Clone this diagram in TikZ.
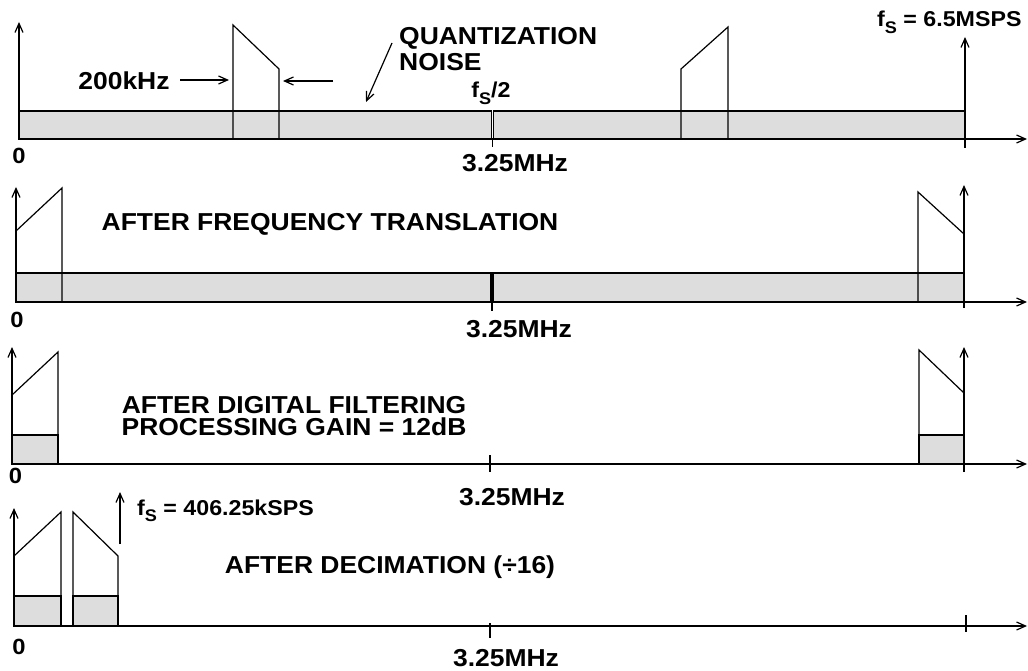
\documentclass[tikz,border=0pt]{standalone}
\usepackage{fontspec}
\setmainfont{Liberation Sans}[FakeStretch=1.08]
\usetikzlibrary{arrows.meta}
\definecolor{band}{HTML}{DDDDDD}
\newcommand\fS{f\raisebox{-0.32em}{\scalebox{0.78}{S}}}
\begin{document}
\begin{tikzpicture}[x=1pt,y=-1pt,
  ln/.style={line width=1.2pt, line join=miter},
  arr/.style={ln, -{Straight Barb[length=9pt,width=8pt,line width=1.2pt]}},
  bandbox/.style={ln, fill=band},
  lbl/.style={font=\fontsize{24.5}{28}\selectfont\bfseries, inner sep=0pt},
  fslbl/.style={font=\fontsize{21.5}{25}\selectfont\bfseries, inner sep=0pt},
  zero/.style={font=\fontsize{22}{25}\selectfont\bfseries, inner sep=0pt}]
\useasboundingbox (0,0) rectangle (1028,671);

% ---------------- Panel 1 ----------------
\draw[bandbox] (19,111) rectangle (491.5,139);
\draw[bandbox] (493.5,111) rectangle (965,139);
\draw[ln] (233,139) -- (233,25) -- (279,69) -- (279,139);
\draw[ln] (681,139) -- (681,69) -- (728,27) -- (728,139);
\coordinate (o1) at (19,139);
\coordinate (y1) at (19,22);
\coordinate (x1) at (1027,139);
\coordinate (fb1) at (965,148);
\coordinate (ft1) at (965,37);
\coordinate (t1a) at (492.5,139);
\coordinate (t1b) at (492.5,147);
\draw[arr] (o1) -- (y1);
\draw[arr] (o1) -- (x1);
\draw[arr] (fb1) -- (ft1);
\draw[ln] (t1a) -- (t1b);
\node[lbl] (k200) at (124,81) {200kHz};
\coordinate (a1s) at (180,80);
\coordinate (a1e) at (229,80);
\coordinate (a2s) at (333,81);
\coordinate (a2e) at (283,81);
\draw[arr] (a1s) -- (a1e);
\draw[arr] (a2s) -- (a2e);
\node[lbl, anchor=base west] (qn1) at (399,45) {QUANTIZATION};
\node[lbl, anchor=base west] (qn2) at (399,71) {NOISE};
\coordinate (qa) at (392,43);
\coordinate (qb) at (366,102);
\draw[arr] (qa) -- (qb);
\node[fslbl, anchor=base] (fs2) at (491,98) {\fS/2};
\node[lbl] (m1) at (515,163) {3.25MHz};
\node[zero] (z1) at (19,156) {0};
\node[fslbl, anchor=base west] (fs65) at (877,27) {\fS\ = 6.5MSPS};

% ---------------- Panel 2 ----------------
\draw[bandbox] (16,273) rectangle (491,302);
\draw[bandbox] (493,273) rectangle (964,302);
\draw[ln] (16,231) -- (62,188) -- (62,302);
\draw[ln] (918,302) -- (918,192) -- (964,234);
\coordinate (o2) at (16,302);
\coordinate (y2) at (16,187);
\coordinate (x2) at (1027,302);
\coordinate (fb2) at (964,308);
\coordinate (ft2) at (964,185);
\coordinate (t2a) at (492,302);
\coordinate (t2b) at (492,311);
\draw[arr] (o2) -- (y2);
\draw[arr] (o2) -- (x2);
\draw[arr] (fb2) -- (ft2);
\draw[ln] (t2a) -- (t2b);
\node[lbl] (ttl2) at (330,224) {AFTER FREQUENCY TRANSLATION};
\node[lbl] (m2) at (519,329) {3.25MHz};
\node[zero] (z2) at (17,320) {0};

% ---------------- Panel 3 ----------------
\draw[bandbox] (12,435) rectangle (58,464);
\draw[bandbox] (919,435) rectangle (964,464);
\draw[ln] (12,395) -- (58,352) -- (58,464);
\draw[ln] (919,464) -- (919,350) -- (964,393);
\coordinate (o3) at (12,464);
\coordinate (y3) at (12,347);
\coordinate (x3) at (1027,464);
\coordinate (fb3) at (964,472);
\coordinate (ft3) at (964,347);
\coordinate (t3a) at (490,455);
\coordinate (t3b) at (490,472);
\draw[arr] (o3) -- (y3);
\draw[arr] (o3) -- (x3);
\draw[arr] (fb3) -- (ft3);
\draw[ln] (t3a) -- (t3b);
\node[lbl] (ttl3a) at (294,405) {AFTER DIGITAL FILTERING};
\node[lbl] (ttl3b) at (294,427) {PROCESSING GAIN = 12dB};
\node[lbl] (m3) at (512,497) {3.25MHz};
\node[zero] (z3) at (15.5,476) {0};

% ---------------- Panel 4 ----------------
\draw[bandbox] (14,596) rectangle (61,626);
\draw[bandbox] (73,596) rectangle (118,626);
\draw[ln] (14,556) -- (61,512) -- (61,626);
\draw[ln] (73,626) -- (73,512) -- (118,556) -- (118,626);
\coordinate (o4) at (14,626);
\coordinate (y4) at (14,508);
\coordinate (x4) at (1027,626);
\coordinate (fb4) at (120,544);
\coordinate (ft4) at (120,492);
\coordinate (t4a) at (490,623);
\coordinate (t4b) at (490,638);
\coordinate (t5a) at (966,615);
\coordinate (t5b) at (966,632);
\draw[arr] (o4) -- (y4);
\draw[arr] (o4) -- (x4);
\draw[arr] (fb4) -- (ft4);
\draw[ln] (t4a) -- (t4b);
\draw[ln] (t5a) -- (t5b);
\node[fslbl, anchor=base west] (fs406) at (137,515) {\fS\ = 406.25kSPS};
\node[lbl, anchor=base] (ttl4) at (390,573) {AFTER DECIMATION (÷16)};
\node[lbl] (m4) at (506,658) {3.25MHz};
\node[zero] (z4) at (19,647) {0};
\end{tikzpicture}
\end{document}
